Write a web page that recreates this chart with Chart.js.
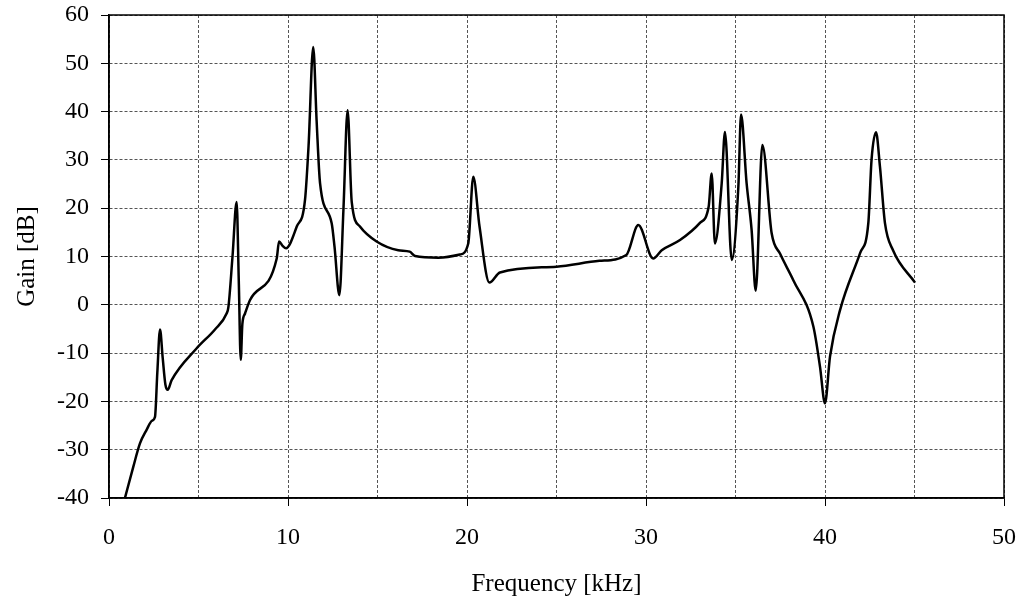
<!DOCTYPE html>
<html lang="en">
<head>
    <meta charset="UTF-8">
    <title>Gain vs Frequency</title>
    <script src="https://cdn.jsdelivr.net/npm/chart.js"></script>
    <style>
        html, body { margin: 0; padding: 0; background: #fff; }
        .chart { width: 1024px; height: 607px; }
    </style>
</head>
<body>
    <div class="chart">
        <canvas id="myChart" width="1024" height="607"></canvas>
    </div>

<script>
    // frequency in kHz, gain in dB
    var freq = [0.89, 1.36, 1.73, 2.1, 2.4, 2.57, 2.7, 2.85, 3.0, 3.15, 3.28, 3.5, 4.9, 5.92, 6.57, 6.67,
        6.9, 7.13, 7.25, 7.36, 7.45, 7.6, 7.88, 9.37, 9.5, 9.7, 9.89, 10.49, 10.95, 11.15, 11.41, 11.6,
        11.79, 12.44, 12.6, 12.87, 13.1, 13.33, 13.56, 14.02, 14.95, 16.16, 16.8, 17.1, 18.4, 19.6,
        20.07, 20.35, 20.7, 21.25, 21.84, 25.0, 27.4, 28.9, 29.57, 30.4, 30.88, 31.9, 33.0, 33.5,
        33.67, 33.85, 34.23, 34.41, 34.79, 35.16, 35.31, 35.62, 35.9, 36.13, 36.5, 37.02, 37.5, 38.23,
        39.35, 39.72, 40.0, 40.28, 40.84, 41.96, 42.42, 42.6, 42.85, 43.07, 43.35, 43.8, 45.03];
    var gain = [-40, -33.5, -28.7, -25.9, -24.0, -23.2, -14, -5.1, -11, -16.5, -17.6, -15.6, -9.0, -5.1, -1.8, -0.5,
        10, 21.3, 5, -11.4, -4, -1.8, 1.0, 9.6, 13.1, 12.2, 11.7, 16.2, 21.7, 33, 53.4, 38,
        25.2, 16.9, 12, 2.0, 20, 40.3, 21.3, 16.2, 13.1, 11.3, 11.0, 10.1, 9.75, 10.4,
        12.7, 26.5, 16.2, 4.6, 6.7, 7.9, 9.1, 10.3, 16.5, 9.6, 11.3, 13.4, 16.9, 20.3,
        27.2, 12.7, 25.2, 35.8, 9.3, 24.5, 39.4, 25.2, 15.5, 2.9, 33.1, 14.8, 10.5, 5.1,
        -4.5, -12.8, -20.4, -10.7, -1.1, 10.7, 16.9, 30.0, 35.7, 28.6, 16.9, 11.3, 4.6];

    var xTicks = [0, 10, 20, 30, 40, 50];
    var yTicks = [-40, -30, -20, -10, 0, 10, 20, 30, 40, 50, 60];

    var pontos = [];
    for (var i = 0; i < freq.length; i++) {
        pontos.push({ x: freq[i], y: gain[i] });
    }

    var fonteTicks = { family: 'Liberation Serif', size: 24 };
    var fonteTitulo = { family: 'Liberation Serif', size: 25 };

    // frame round the plot area
    const moldura = {
        id: 'moldura',
        afterDraw(chart) {
            const a = chart.chartArea;
            const ctx = chart.ctx;
            ctx.save();
            ctx.strokeStyle = '#000';
            ctx.lineWidth = 1.5;
            ctx.strokeRect(a.left, a.top, a.right - a.left, a.bottom - a.top);
            ctx.restore();
        }
    };

    const config = {
        type: 'line',
        data: {
            datasets: [{
                data: pontos,
                borderColor: '#000',
                borderWidth: 2.5,
                pointRadius: 0,
                fill: false,
                cubicInterpolationMode: 'monotone'
            }]
        },
        options: {
            responsive: false,
            animation: false,
            layout: { padding: { left: 0, top: 15, right: 20, bottom: 0 } },
            plugins: { legend: { display: false }, tooltip: { enabled: false } },
            scales: {
                x: {
                    type: 'linear',
                    min: 0,
                    max: 50,
                    afterFit: function (s) {
                        s.height = 109;
                        s.paddingLeft = 0;
                        s.paddingRight = 0;
                    },
                    ticks: {
                        stepSize: 5,
                        color: '#000',
                        font: fonteTicks,
                        padding: 17,
                        maxRotation: 0,
                        callback: function (v) { return xTicks.indexOf(v) >= 0 ? String(v) : ''; }
                    },
                    grid: {
                        color: '#555',
                        lineWidth: 1,
                        tickLength: 8,
                        tickColor: function (c) { return c.tick && xTicks.indexOf(c.tick.value) >= 0 ? '#000' : 'rgba(0,0,0,0)'; }
                    },
                    border: { color: '#000', width: 1.5, dash: [3, 2] },
                    title: {
                        display: true,
                        text: 'Frequency [kHz]',
                        color: '#000',
                        font: fonteTitulo,
                        padding: { top: 0, bottom: 8 }
                    }
                },
                y: {
                    min: -40,
                    max: 60,
                    afterFit: function (s) {
                        s.width = 109;
                        s.paddingTop = 0;
                        s.paddingBottom = 0;
                    },
                    ticks: {
                        stepSize: 10,
                        color: '#000',
                        font: fonteTicks,
                        padding: 12,
                        callback: function (v) { return yTicks.indexOf(v) >= 0 ? String(v) : ''; }
                    },
                    grid: {
                        color: '#555',
                        lineWidth: 1,
                        tickLength: 8,
                        tickColor: '#000'
                    },
                    border: { color: '#000', width: 1.5, dash: [3, 2] },
                    title: {
                        display: true,
                        text: 'Gain [dB]',
                        color: '#000',
                        font: fonteTitulo,
                        padding: { top: 12, bottom: 0 }
                    }
                }
            }
        },
        plugins: [moldura]
    };

    let myChart = new Chart(document.getElementById('myChart'), config);
</script>
</body>
</html>
